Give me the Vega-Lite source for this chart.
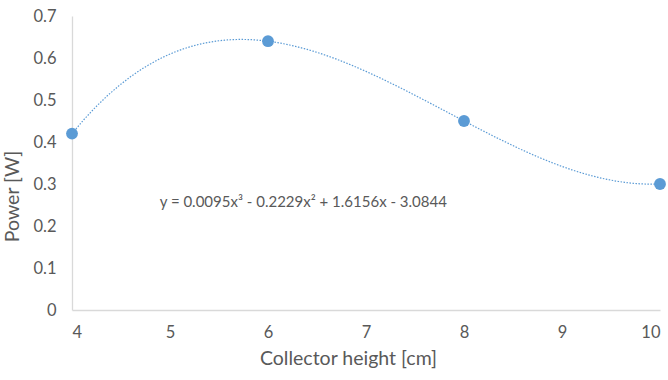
{
  "$schema": "https://vega.github.io/schema/vega-lite/v6.json",
  "width": 588,
  "height": 294,
  "autosize": "none",
  "padding": {"left": 72, "top": 16, "right": 8, "bottom": 70},
  "background": "white",
  "config": {
    "view": {"stroke": null},
    "font": "Lato",
    "axis": {
      "grid": false,
      "ticks": false,
      "domainColor": "#d9d9d9",
      "domainWidth": 1.3,
      "labelColor": "#595959",
      "labelFontSize": 16.5,
      "labelFont": "Lato",
      "titleColor": "#595959",
      "titleFontSize": 19.5,
      "titleFont": "Lato",
      "titleFontWeight": "normal"
    }
  },
  "data": {
    "values": [
      {"height": 4, "power": 0.42},
      {"height": 6, "power": 0.64},
      {"height": 8, "power": 0.45},
      {"height": 10, "power": 0.30}
    ]
  },
  "layer": [
    {
      "transform": [
        {"regression": "power", "on": "height", "method": "poly", "order": 3, "extent": [4, 10]}
      ],
      "mark": {"type": "line", "color": "#5b9bd5", "strokeWidth": 1.2, "strokeDash": [1.5, 1.5], "clip": true},
      "encoding": {
        "x": {"field": "height", "type": "quantitative"},
        "y": {"field": "power", "type": "quantitative"}
      }
    },
    {
      "mark": {"type": "point", "filled": true, "color": "#5b9bd5", "opacity": 1, "size": 140},
      "encoding": {
        "x": {
          "field": "height",
          "type": "quantitative",
          "scale": {"domain": [4, 10], "nice": false},
          "axis": {"values": [4, 5, 6, 7, 8, 9, 10], "format": "d", "labelPadding": 14, "title": "Collector height [cm]", "titlePadding": 9, "titleX": 276}
        },
        "y": {
          "field": "power",
          "type": "quantitative",
          "scale": {"domain": [0, 0.7], "nice": false},
          "axis": {"values": [0, 0.1, 0.2, 0.3, 0.4, 0.5, 0.6, 0.7], "format": ".1~f", "labelPadding": 16, "title": "Power [W]", "titlePadding": 10, "titleY": 180}
        }
      }
    },
    {
      "data": {"values": [{"height": 6.36, "power": 0.257, "label": "y = 0.0095x³ - 0.2229x² + 1.6156x - 3.0844"}]},
      "mark": {"type": "text", "fontSize": 15, "color": "#595959", "font": "Lato", "align": "center", "baseline": "middle"},
      "encoding": {
        "x": {"field": "height", "type": "quantitative"},
        "y": {"field": "power", "type": "quantitative"},
        "text": {"field": "label"}
      }
    }
  ]
}
